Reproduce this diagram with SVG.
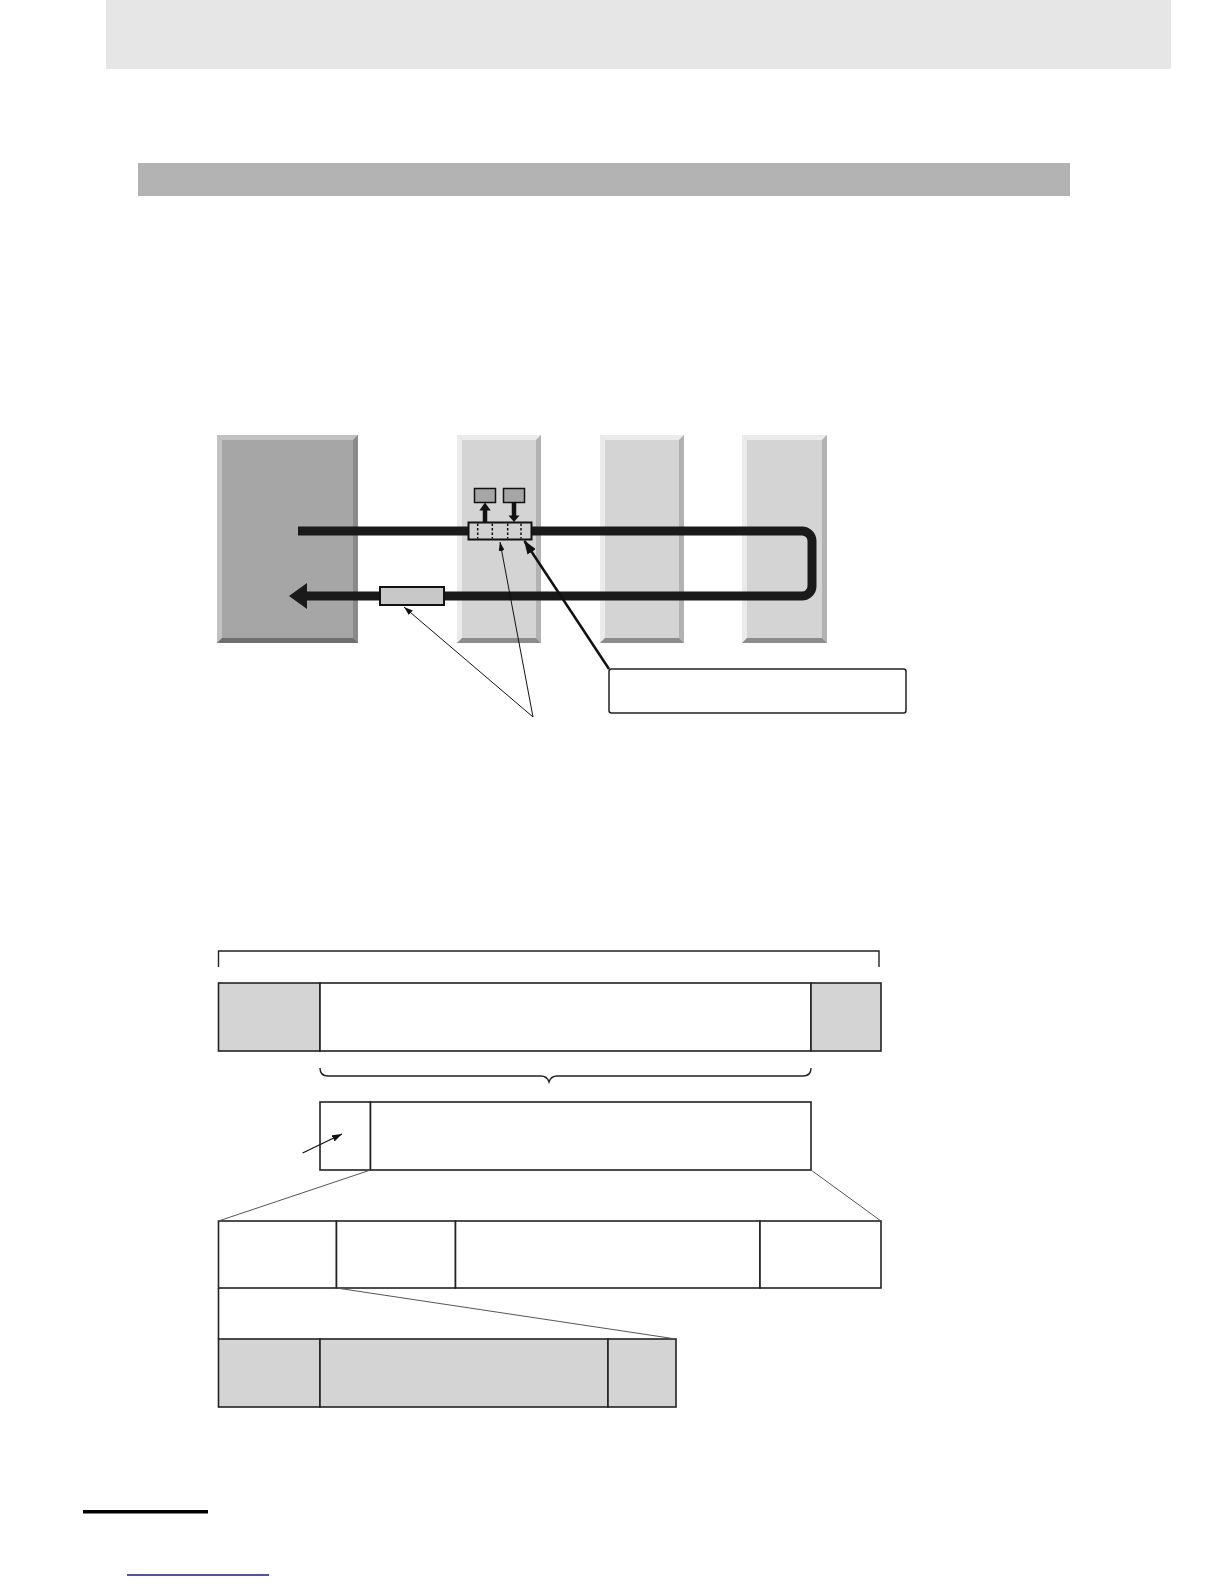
<svg xmlns="http://www.w3.org/2000/svg" width="1224" height="1584" viewBox="0 0 1224 1584">
<style>
.hl{fill:#ebebeb}.sh{fill:#b2b2b2}.dk{fill:#8c8c8c}
.mhl{fill:#c2c2c2}.msh{fill:#8a8a8a}.mdk{fill:#6e6e6e}
.cell{stroke:#222;stroke-width:1.6}
.thin{stroke:#555;stroke-width:1;fill:none}
</style>
<defs>
<marker id="ahThick" markerUnits="userSpaceOnUse" markerWidth="14" markerHeight="10" refX="13" refY="5" orient="auto"><path d="M0,0 L14,5 L0,10 Z" fill="#111"/></marker>
<marker id="ahThin" markerUnits="userSpaceOnUse" markerWidth="9" markerHeight="6" refX="9" refY="3" orient="auto"><path d="M0,0 L9,3 L0,6 Z" fill="#111"/></marker>
<marker id="ahSmall" markerUnits="userSpaceOnUse" markerWidth="10" markerHeight="7" refX="10" refY="3.5" orient="auto"><path d="M0,0 L10,3.5 L0,7 Z" fill="#111"/></marker>
</defs>
<rect width="1224" height="1584" fill="#fff"/>
<g id="header"><rect x="106" y="0" width="1065" height="69" fill="#e6e6e6"/></g>
<g id="section-bar"><rect x="138" y="163" width="932" height="33" fill="#b3b3b3"/></g>

<g id="master">
<rect x="217" y="435" width="141" height="208" fill="#a6a6a6"/>
<polygon class="mhl" points="217,435 358,435 353,440 222,440"/>
<polygon class="mhl" points="217,435 222,440 222,638 217,643"/>
<polygon class="msh" points="358,435 358,643 353,638 353,440"/>
<polygon class="mdk" points="217,643 222,638 353,638 358,643"/>
</g>
<g id="slave1">
<rect x="457" y="435" width="84" height="208" fill="#d4d4d4"/>
<polygon class="hl" points="457,435 541,435 536,440 462,440"/>
<polygon class="hl" points="457,435 462,440 462,638 457,643"/>
<polygon class="sh" points="541,435 541,643 536,638 536,440"/>
<polygon class="dk" points="457,643 462,638 536,638 541,643"/>
</g>
<g id="slave2">
<rect x="600" y="435" width="84" height="208" fill="#d4d4d4"/>
<polygon class="hl" points="600,435 684,435 679,440 605,440"/>
<polygon class="hl" points="600,435 605,440 605,638 600,643"/>
<polygon class="sh" points="684,435 684,643 679,638 679,440"/>
<polygon class="dk" points="600,643 605,638 679,638 684,643"/>
</g>
<g id="slave3">
<rect x="742" y="435" width="85" height="208" fill="#d4d4d4"/>
<polygon class="hl" points="742,435 827,435 822,440 747,440"/>
<polygon class="hl" points="742,435 747,440 747,638 742,643"/>
<polygon class="sh" points="827,435 827,643 822,638 822,440"/>
<polygon class="dk" points="742,643 747,638 822,638 827,643"/>
</g>

<g id="frame-path">
<path d="M298 531 H802 A10 10 0 0 1 812 541 V586 A10 10 0 0 1 802 596 H305" fill="none" stroke="#1a1a1a" stroke-width="9"/>
<polygon points="289,596 307,583 307,609" fill="#1a1a1a"/>
</g>

<g id="return-block"><rect x="380" y="587" width="64" height="18" fill="#c8c8c8" stroke="#111" stroke-width="2"/></g>

<g id="frame">
<rect x="468.5" y="522.5" width="63" height="17" fill="#d2d2d2" stroke="#111" stroke-width="2"/>
<g stroke="#111" stroke-width="1.5" stroke-dasharray="2.5,2">
<line x1="477.7" y1="523.5" x2="477.7" y2="538.5"/>
<line x1="492.3" y1="523.5" x2="492.3" y2="538.5"/>
<line x1="507.7" y1="523.5" x2="507.7" y2="538.5"/>
<line x1="521" y1="523.5" x2="521" y2="538.5"/>
</g>
</g>
<g id="in-box"><rect x="474.5" y="488.5" width="21" height="14" fill="#a6a6a6" stroke="#111" stroke-width="1.5"/></g>
<g id="out-box"><rect x="503.5" y="488.5" width="21" height="14" fill="#a6a6a6" stroke="#111" stroke-width="1.5"/></g>

<g id="callout-box"><rect x="609" y="669" width="297" height="44" rx="2.5" fill="#fff" stroke="#222" stroke-width="1.5"/></g>

<g id="bracket"><path d="M218.5 967 V951 H879 V967" fill="none" stroke="#222" stroke-width="1.4"/></g>

<g id="row1">
<rect class="cell" x="218.5" y="983" width="101.5" height="68" fill="#d4d4d4"/>
<rect class="cell" x="320" y="983" width="491" height="68" fill="#fff"/>
<rect class="cell" x="811" y="983" width="70" height="68" fill="#d4d4d4"/>
</g>

<g id="brace"><path d="M320 1068 Q320 1076 328 1076 H541 Q547 1076 549 1082 Q551 1076 557 1076 H803 Q811 1076 811 1068" fill="none" stroke="#222" stroke-width="1.4"/></g>

<g id="row2">
<rect class="cell" x="320" y="1102" width="50.5" height="68" fill="#fff"/>
<rect class="cell" x="370.5" y="1102" width="440.5" height="68" fill="#fff"/>
</g>

<g id="row3">
<rect class="cell" x="218.5" y="1221" width="118" height="67" fill="#fff"/>
<rect class="cell" x="336.5" y="1221" width="119" height="67" fill="#fff"/>
<rect class="cell" x="455.5" y="1221" width="304.5" height="67" fill="#fff"/>
<rect class="cell" x="760" y="1221" width="121" height="67" fill="#fff"/>
</g>

<g id="row4">
<rect class="cell" x="218.5" y="1339" width="101.5" height="68" fill="#d4d4d4"/>
<rect class="cell" x="320" y="1339" width="288" height="68" fill="#d4d4d4"/>
<rect class="cell" x="608" y="1339" width="68" height="68" fill="#d4d4d4"/>
</g>

<g id="connectors">
<line x1="485" y1="522" x2="485" y2="509" stroke="#111" stroke-width="4.5"/>
<polygon points="485,502.5 479.3,510.5 490.7,510.5" fill="#111"/>
<line x1="514" y1="502.5" x2="514" y2="516" stroke="#111" stroke-width="4.5"/>
<polygon points="514,522 508.5,515.5 519.5,515.5" fill="#111"/>
<line x1="609" y1="669" x2="524.5" y2="541" stroke="#111" stroke-width="2.5" marker-end="url(#ahThick)"/>
<line x1="533" y1="717" x2="500" y2="542" stroke="#111" stroke-width="1" marker-end="url(#ahThin)"/>
<line x1="533" y1="717" x2="404" y2="607" stroke="#111" stroke-width="1" marker-end="url(#ahThin)"/>
<path class="thin" d="M370.5 1170 L218.5 1221"/>
<path class="thin" d="M811 1170 L881 1221"/>
<path class="thin" d="M336.6 1288 L676 1339"/>
<line x1="218.5" y1="1288" x2="218.5" y2="1339" stroke="#222" stroke-width="1.6"/>
<line x1="302.6" y1="1153" x2="342" y2="1134" stroke="#111" stroke-width="1.3" marker-end="url(#ahSmall)"/>
</g>

<g id="footer">
<rect x="83" y="1510" width="125" height="3.5" fill="#000"/>
<line x1="127" y1="1575" x2="269" y2="1575" stroke="#1a1a80" stroke-width="1.3"/>
</g>
</svg>
